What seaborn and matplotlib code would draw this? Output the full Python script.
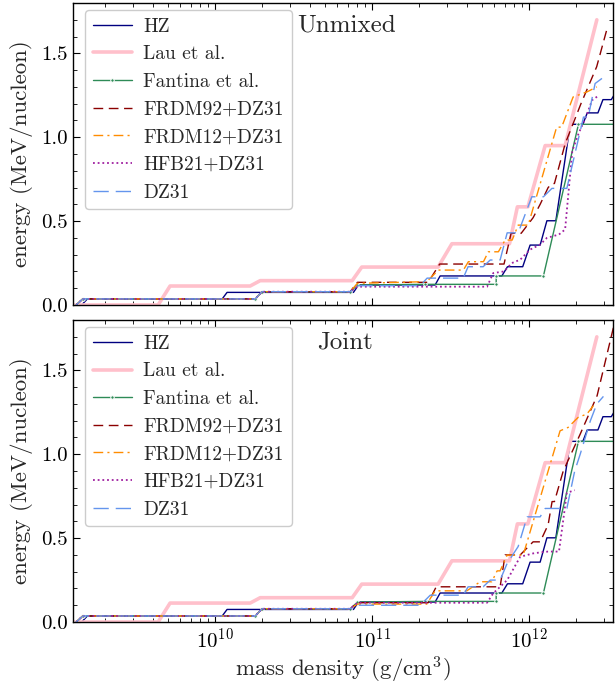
import numpy as np
import matplotlib
matplotlib.use("Agg")
import matplotlib.pyplot as plt
import seaborn as sns

# ---------------- data (log10 of mass density in g/cm^3, energy in MeV/nucleon) ----------------
# reference models (identical in both panels)
hz_logrho = [9.150, 9.186, 10.045, 10.076, 10.881, 10.913, 11.401, 11.433, 11.826, 11.862,
             11.959, 12.006, 12.070, 12.113, 12.170, 12.262, 12.342, 12.370, 12.438, 12.470, 12.523, 12.560]
hz_energy = [0.0, 0.036, 0.036, 0.075, 0.075, 0.119, 0.119, 0.173, 0.173, 0.228,
             0.228, 0.357, 0.357, 0.502, 0.502, 1.077, 1.077, 1.145, 1.145, 1.224, 1.224, 1.28]

lau_logrho = [9.09, 9.637, 9.713, 10.223, 10.287, 10.873, 10.934, 11.420, 11.508, 11.875,
              11.925, 11.992, 12.102, 12.229, 12.431]
lau_energy = [0.0, 0.0, 0.113, 0.113, 0.145, 0.145, 0.226, 0.226, 0.365, 0.365,
              0.585, 0.585, 0.95, 0.95, 1.70]

fan_logrho = [9.115, 9.157, 10.255, 10.299, 10.860, 10.906, 11.338, 11.790, 11.790, 12.091, 12.314, 12.60]
fan_energy = [0.0, 0.036, 0.036, 0.079, 0.077, 0.119, 0.123, 0.123, 0.173, 0.173, 1.077, 1.077]

# Unmixed panel models
u_frdm92_logrho = [9.115, 9.157, 10.255, 10.299, 10.860, 10.906, 11.357, 11.430, 11.840, 11.885,
                   11.949, 12.025, 12.070, 12.121, 12.146, 12.161, 12.229, 12.330, 12.430, 12.50]
u_frdm92_energy = [0.0, 0.036, 0.036, 0.079, 0.079, 0.135, 0.135, 0.244, 0.244, 0.427,
                   0.427, 0.52, 0.60, 0.70, 0.724, 0.724, 0.96, 1.20, 1.42, 1.66]

u_frdm12_logrho = [9.115, 9.157, 10.255, 10.299, 10.860, 10.906, 11.348, 11.422, 11.581, 11.613,
                   11.709, 11.740, 11.804, 11.847, 11.892, 11.930, 11.994, 12.175, 12.207, 12.280,
                   12.368, 12.431]
u_frdm12_energy = [0.0, 0.036, 0.036, 0.079, 0.079, 0.129, 0.139, 0.208, 0.208, 0.258,
                   0.258, 0.317, 0.317, 0.387, 0.387, 0.476, 0.476, 1.06, 1.06, 1.24,
                   1.27, 1.30]

u_hfb21_logrho = [9.115, 9.157, 10.255, 10.299, 10.860, 10.906, 11.732, 11.771, 11.840, 11.890,
                  11.943, 12.006, 12.070, 12.113, 12.190, 12.229, 12.275, 12.314, 12.370, 12.400, 12.445]
u_hfb21_energy = [0.0, 0.036, 0.036, 0.079, 0.079, 0.109, 0.109, 0.19, 0.20, 0.25,
                  0.27, 0.33, 0.36, 0.40, 0.42, 0.45, 0.92, 1.02, 1.14, 1.22, 1.25]

u_dz31_logrho = [9.115, 9.157, 10.255, 10.299, 10.860, 10.906, 11.306, 11.350, 11.580, 11.611,
                 11.707, 11.752, 11.815, 11.860, 11.930, 12.017, 12.091, 12.145, 12.240, 12.346,
                 12.376, 12.420, 12.473]
u_dz31_energy = [0.0, 0.036, 0.036, 0.079, 0.079, 0.115, 0.115, 0.16, 0.16, 0.228,
                 0.228, 0.268, 0.268, 0.43, 0.43, 0.645, 0.645, 0.695, 0.695, 1.12,
                 1.12, 1.32, 1.357]

# Joint panel models
j_frdm92_logrho = [9.115, 9.157, 10.255, 10.299, 10.860, 10.906, 11.357, 11.408, 11.815, 11.847,
                   11.943, 12.025, 12.070, 12.121, 12.146, 12.161, 12.217, 12.325, 12.433, 12.548]
j_frdm92_energy = [0.0, 0.036, 0.036, 0.079, 0.079, 0.115, 0.115, 0.21, 0.21, 0.40,
                   0.40, 0.478, 0.478, 0.58, 0.718, 0.718, 0.90, 1.12, 1.35, 1.80]

j_frdm12_logrho = [9.115, 9.157, 10.255, 10.299, 10.860, 10.906, 11.348, 11.401, 11.603, 11.688,
                   11.762, 11.796, 11.815, 11.860, 11.962, 12.197, 12.248, 12.312, 12.368, 12.409]
j_frdm12_energy = [0.0, 0.036, 0.036, 0.079, 0.079, 0.107, 0.107, 0.186, 0.186, 0.24,
                   0.24, 0.305, 0.305, 0.399, 0.399, 1.14, 1.16, 1.22, 1.24, 1.29]

j_hfb21_logrho = [9.115, 9.157, 10.255, 10.299, 10.860, 10.906, 11.732, 11.771, 11.860, 11.943,
                  12.025, 12.070, 12.120, 12.190, 12.217, 12.240, 12.290]
j_hfb21_energy = [0.0, 0.036, 0.036, 0.079, 0.079, 0.115, 0.115, 0.171, 0.25, 0.389,
                  0.409, 0.415, 0.42, 0.42, 0.607, 0.77, 0.786]

j_dz31_logrho = [9.115, 9.157, 10.255, 10.299, 10.860, 10.906, 11.306, 11.370, 11.580, 11.611,
                 11.707, 11.752, 11.815, 11.860, 11.930, 11.987, 12.070, 12.102, 12.240, 12.290,
                 12.325, 12.390, 12.431, 12.473]
j_dz31_energy = [0.0, 0.036, 0.036, 0.079, 0.079, 0.10, 0.10, 0.16, 0.16, 0.21,
                 0.21, 0.25, 0.25, 0.35, 0.45, 0.627, 0.627, 0.677, 0.677, 0.9,
                 1.0, 1.2, 1.3, 1.345]

panel_titles = ["Unmixed", "Joint"]
labels = ["HZ", "Lau et al.", "Fantina et al.", "FRDM92+DZ31", "FRDM12+DZ31", "HFB21+DZ31", "DZ31"]

# ---------------- styling ----------------
sns.set_style("ticks")
plt.rcParams.update({
    "font.family": ["serif"],
    "font.serif": ["cmr10", "DejaVu Serif"],
    "mathtext.fontset": "cm",
    "axes.formatter.use_mathtext": True,
    "axes.unicode_minus": False,
    "axes.linewidth": 1.0,
    "axes.edgecolor": "black",
    "xtick.direction": "in",
    "ytick.direction": "in",
    "xtick.top": True,
    "ytick.right": True,
    "xtick.minor.visible": True,
    "ytick.minor.visible": True,
    "xtick.major.size": 5,
    "ytick.major.size": 5,
    "xtick.minor.size": 2.8,
    "ytick.minor.size": 2.8,
    "xtick.color": "black",
    "ytick.color": "black",
})

styles = [
    dict(color="#000080", lw=1.0, linestyle="-"),
    dict(color="#FFC0CB", lw=2.6, linestyle="-"),
    dict(color="#2E8B57", lw=1.0, linestyle="-", marker=".", markersize=5),
    dict(color="#8B0000", lw=1.0, linestyle=(0, (7, 4))),
    dict(color="#FF8C00", lw=1.0, linestyle=(0, (7, 3, 1.5, 3))),
    dict(color="#A020A0", lw=1.3, linestyle=(0, (1, 1.6))),
    dict(color="#6495ED", lw=1.0, linestyle=(0, (11, 5))),
]

fig, axes = plt.subplots(2, 1, figsize=(6.15, 6.84), dpi=100, sharex=True)
fig.subplots_adjust(left=0.119, right=0.997, top=0.9956, bottom=0.0906, hspace=0.05)

panels = [
    [(hz_logrho, hz_energy), (lau_logrho, lau_energy), (fan_logrho, fan_energy),
     (u_frdm92_logrho, u_frdm92_energy), (u_frdm12_logrho, u_frdm12_energy),
     (u_hfb21_logrho, u_hfb21_energy), (u_dz31_logrho, u_dz31_energy)],
    [(hz_logrho, hz_energy), (lau_logrho, lau_energy), (fan_logrho, fan_energy),
     (j_frdm92_logrho, j_frdm92_energy), (j_frdm12_logrho, j_frdm12_energy),
     (j_hfb21_logrho, j_hfb21_energy), (j_dz31_logrho, j_dz31_energy)],
]

for ax, series, title in zip(axes, panels, panel_titles):
    for (lr, en), lab, st in zip(series, labels, styles):
        sns.lineplot(x=10 ** np.asarray(lr), y=np.asarray(en), sort=False, estimator=None,
                     ax=ax, label=lab, **st)
    ax.set_xscale("log")
    ax.set_xlim(10 ** 9.096, 10 ** 12.535)
    ax.set_ylim(0, 1.8)
    ax.set_yticks([0.0, 0.5, 1.0, 1.5])
    ax.set_yticklabels(["0.0", "0.5", "1.0", "1.5"])
    ax.yaxis.set_minor_locator(matplotlib.ticker.MultipleLocator(0.1))
    ax.tick_params(axis="both", which="major", labelsize=15, pad=4)
    ax.set_ylabel("energy (MeV/nucleon)", fontsize=16.5, labelpad=6)
    leg = ax.legend(loc="upper left", bbox_to_anchor=(0.022, 0.977), borderaxespad=0,
                    fontsize=14, frameon=True, fancybox=True, numpoints=1,
                    edgecolor="#cccccc", framealpha=1.0, handlelength=2.0,
                    handletextpad=0.6, labelspacing=0.5)
    ax.text(0.415 if title == "Unmixed" else 0.452, 0.926, title, transform=ax.transAxes,
            fontsize=18, ha="left", va="center")

axes[0].tick_params(labelbottom=False)
axes[1].set_xlabel("mass density (g/cm$^3$)", fontsize=16.5, labelpad=2)

fig.savefig("out.png", dpi=100)
